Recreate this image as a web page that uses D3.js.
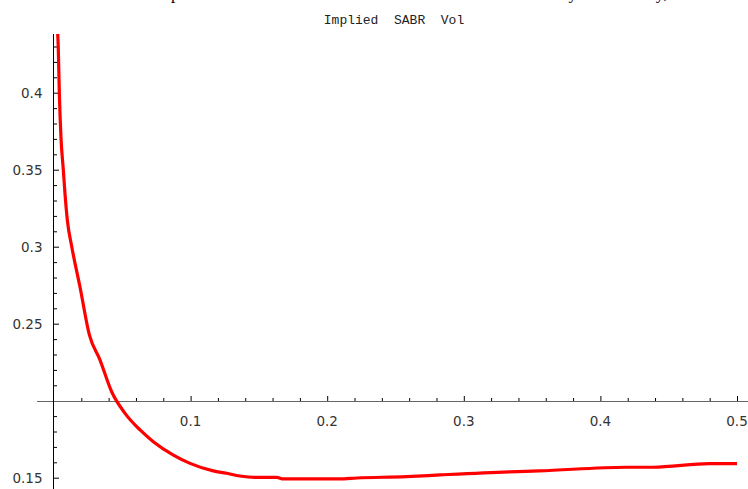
<!DOCTYPE html>
<html>
<head>
<meta charset="utf-8">
<script src="https://cdn.jsdelivr.net/npm/d3@7"></script>
<style>
  body { margin: 0; background: #fff; }
  svg { display: block; }
</style>
</head>
<body>
<svg id="chart" width="748" height="489"></svg>
<script>
const WIDTH = 748;
const HEIGHT = 489;

// strike (x) and implied SABR vol (y)
const strikes = [0.0012, 0.0031, 0.0039, 0.0051, 0.0068, 0.008, 0.0098, 0.013, 0.019, 0.0259,
  0.0337, 0.0422, 0.052, 0.063, 0.0727, 0.0874, 0.0996, 0.1166, 0.1264, 0.136,
  0.147, 0.163, 0.168, 0.209, 0.2216, 0.258, 0.2826, 0.333, 0.355, 0.419,
  0.4385, 0.48, 0.5];
const vols = [0.455, 0.43, 0.4, 0.371, 0.35, 0.335, 0.317, 0.3, 0.274, 0.2427,
  0.2264, 0.2058, 0.1918, 0.181, 0.1734, 0.1647, 0.1593, 0.1544, 0.1529, 0.1511,
  0.1502, 0.1502, 0.1492, 0.1492, 0.1498, 0.1507, 0.1518, 0.1538, 0.1544, 0.1568,
  0.1568, 0.1591, 0.1591];

const xTickValues = [0.1, 0.2, 0.3, 0.4, 0.5];
const yTickValues = [0.15, 0.25, 0.3, 0.35, 0.4];
const headline = "Comparison of SABR Monte Carlo smile and closed formula by the maturity,";
const subtitle = "Implied  SABR  Vol";

const x = d3.scaleLinear().domain([0, 0.5]).range([54, 737]);
const y = d3.scaleLinear().domain([0.15, 0.4]).range([477.7, 92.7]);
const y0 = Math.round(y(0.2)) + 0.5; // axes cross at (0, 0.2)
const x0 = Math.round(x(0)) - 0.5;

const svg = d3.select("#chart");

// clipped headline, only the descenders show at the top edge
const head = svg.append("text")
  .attr("font-family", "Liberation Serif, serif")
  .attr("font-size", 20)
  .attr("y", -1.5)
  .attr("fill", "#000")
  .text(headline);
{
  const n = head.node();
  const ip = headline.indexOf("p"), iy = headline.indexOf("y");
  const span = n.getStartPositionOfChar(iy).x - n.getStartPositionOfChar(ip).x;
  head.attr("font-size", 20 * 398 / span);
  head.attr("x", 171 - n.getStartPositionOfChar(ip).x);
}

svg.append("text")
  .attr("x", 394)
  .attr("y", 24)
  .attr("text-anchor", "middle")
  .attr("font-family", "Liberation Mono, monospace")
  .attr("font-size", 13)
  .attr("fill", "#222")
  .style("white-space", "pre")
  .text(subtitle);

// x axis: line through y = 0.2, ticks pointing up
const xMinor = d3.range(0.02, 0.5001, 0.02).filter(v => !xTickValues.some(t => Math.abs(t - v) < 1e-6));
svg.append("g")
  .attr("transform", `translate(0,${y0})`)
  .call(d3.axisTop(x).tickValues(xMinor).tickSize(3.5).tickFormat("").tickSizeOuter(0))
  .call(g => g.select(".domain").remove())
  .call(g => g.selectAll("line").attr("stroke", "#000"));
svg.append("g")
  .attr("transform", `translate(0,${y0})`)
  .call(d3.axisTop(x).tickValues(xTickValues).tickSize(5.5).tickFormat("").tickSizeOuter(0))
  .call(g => g.select(".domain").remove())
  .call(g => g.selectAll("line").attr("stroke", "#000"));
svg.append("line")
  .attr("x1", 37).attr("x2", WIDTH)
  .attr("y1", y0).attr("y2", y0)
  .attr("stroke", "#666");
svg.append("g")
  .selectAll("text")
  .data(xTickValues)
  .join("text")
  .attr("x", d => x(d))
  .attr("y", y0 + 24)
  .attr("text-anchor", "middle")
  .attr("font-family", "DejaVu Sans, sans-serif")
  .attr("font-size", 13.5)
  .attr("fill", "#333")
  .text(d => String(d));

// y axis: line at x = 0, ticks pointing right
const yMinor = d3.range(0.15, 0.4301, 0.01).filter(v => !yTickValues.some(t => Math.abs(t - v) < 1e-6) && Math.abs(v - 0.2) > 1e-6);
svg.append("g")
  .attr("transform", `translate(${x0},0)`)
  .call(d3.axisRight(y).tickValues(yMinor).tickSize(3.5).tickFormat("").tickSizeOuter(0))
  .call(g => g.select(".domain").remove())
  .call(g => g.selectAll("line").attr("stroke", "#000"));
svg.append("g")
  .attr("transform", `translate(${x0},0)`)
  .call(d3.axisRight(y).tickValues(yTickValues).tickSize(5.5).tickFormat("").tickSizeOuter(0))
  .call(g => g.select(".domain").remove())
  .call(g => g.selectAll("line").attr("stroke", "#000"));
svg.append("line")
  .attr("x1", x0).attr("x2", x0)
  .attr("y1", 34).attr("y2", HEIGHT)
  .attr("stroke", "#000");
svg.append("g")
  .selectAll("text")
  .data(yTickValues)
  .join("text")
  .attr("x", 42.5)
  .attr("y", d => y(d))
  .attr("dy", "0.36em")
  .attr("text-anchor", "end")
  .attr("font-family", "DejaVu Sans, sans-serif")
  .attr("font-size", 13.5)
  .attr("fill", "#333")
  .text(d => String(d));

// the curve, clipped to the plot range
svg.append("clipPath")
  .attr("id", "plot-clip")
  .append("rect")
  .attr("x", 0).attr("y", 34)
  .attr("width", WIDTH).attr("height", HEIGHT - 34);

const line = d3.line()
  .x((d, i) => x(strikes[i]))
  .y(d => y(d))
  .curve(d3.curveMonotoneX);

svg.append("path")
  .datum(vols)
  .attr("clip-path", "url(#plot-clip)")
  .attr("fill", "none")
  .attr("stroke", "#ff0000")
  .attr("stroke-width", 3.2)
  .attr("stroke-linejoin", "round")
  .attr("d", line);
</script>
</body>
</html>
